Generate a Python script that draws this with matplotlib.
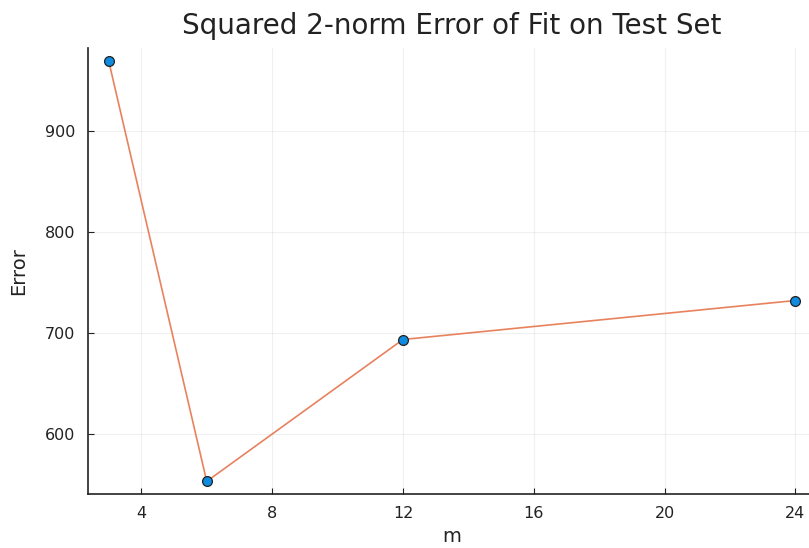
import matplotlib.pyplot as plt

m = [3, 6, 12, 24]
err = [970.0, 553.6, 694.0, 732.6]
xticks = [4, 8, 12, 16, 20, 24]
yticks = [600, 700, 800, 900]

fig = plt.figure(figsize=(8.09, 5.48), dpi=100)
ax = fig.add_axes([88/809, 54/548, 728/809, 446/548])

ax.plot(m, err, color='#E8825E', lw=1.2, zorder=2)
ax.scatter(m, err, s=50, color='#0F8BE0', edgecolor='#222222', linewidth=0.9, zorder=3)

ax.set_xlim(2.37, 24.63)
ax.set_ylim(541.1, 982.5)
ax.set_xticks(xticks)
ax.set_yticks(yticks)
ax.grid(True, color='black', alpha=0.06, lw=0.8)
ax.tick_params(direction='in', length=4, labelsize=11.5, pad=9, color='#222222', labelcolor='#222222')
for s in ['top', 'right']:
    ax.spines[s].set_visible(False)
for s in ['left', 'bottom']:
    ax.spines[s].set_color('#222222')
    ax.spines[s].set_linewidth(1.2)

ax.set_xlabel('m', fontsize=14, color='#222222', labelpad=4)
ax.set_ylabel('Error', fontsize=14, color='#222222', labelpad=12)
ax.set_title('Squared 2-norm Error of Fit on Test Set', fontsize=20, color='#222222', pad=10)

fig.savefig('out.png')
